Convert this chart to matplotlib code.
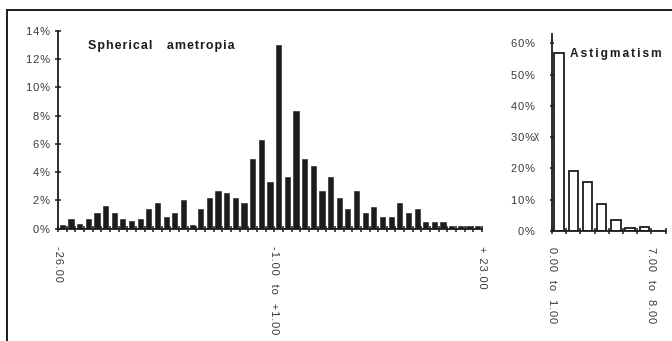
import matplotlib
matplotlib.use("Agg")
import matplotlib.pyplot as plt
from matplotlib.lines import Line2D
import numpy as np

# Spherical ametropia: share of eyes per 1 D bin, from -26.00 to +23.00
sph_values = [0.28, 0.7, 0.3, 0.7, 1.14, 1.6, 1.14, 0.7, 0.52, 0.7,
              1.38, 1.8, 0.86, 1.09, 2.0, 0.24, 1.38, 2.18, 2.7, 2.5,
              2.18, 1.8, 4.94, 6.27, 3.33, 13.0, 3.66, 8.3, 4.96, 4.47,
              2.7, 3.66, 2.18, 1.38, 2.7, 1.09, 1.57, 0.86, 0.86, 1.8,
              1.09, 1.38, 0.48, 0.48, 0.48, 0.22, 0.22, 0.22, 0.22]
sph_label_pos = [0, 25, 49]
sph_labels = ["-26.00", "-1.00  to  +1.00", "+ 23.00"]
sph_yticks = [0, 2, 4, 6, 8, 10, 12, 14]

# Astigmatism: share of eyes per 1 D bin, 0.00 to 8.00
ast_values = [57.0, 19.3, 15.7, 8.75, 3.6, 0.8, 1.3, 0.0]
ast_label_pos = [0, 7]
ast_labels = ["0.00  to  1.00", "7.00  to  8.00"]
ast_yticks = [0, 10, 20, 30, 40, 50, 60]

FONT = ["Liberation Sans", "DejaVu Sans"]
INK = "#1c1c1c"
TXT = "#3a3a3a"
HAIR = "\u200a"


def tracked(s, gap):
    """Open up letter spacing by putting a narrow space between glyphs."""
    return gap.join(s)


plt.rcParams["font.family"] = FONT
fig = plt.figure(figsize=(6.72, 3.41), dpi=100, facecolor="white")

W, H = 672.0, 341.0


def fx(px):
    return px / W


def fy(py):
    return 1 - py / H


def style_axes(ax, pad_y):
    for s in ("top", "right"):
        ax.spines[s].set_visible(False)
    for s in ("left", "bottom"):
        ax.spines[s].set_color(INK)
        ax.spines[s].set_linewidth(1.3)
    ax.tick_params(axis="both", which="both", direction="inout", color=INK,
                   width=1.1, length=5, labelsize=8, labelcolor=TXT)
    ax.tick_params(axis="y", pad=pad_y)
    ax.tick_params(axis="x", which="major", labelbottom=False)
    ax.set_facecolor("none")


# ---- Spherical ametropia panel ----
ax1 = fig.add_axes([fx(58), fy(228.7), fx(482 - 58), (228.7 - 31) / H])
x1 = np.arange(len(sph_values)) + 0.5
ax1.bar(x1, sph_values, width=0.6, color=INK, edgecolor=INK, linewidth=0.4)
ax1.set_xlim(0, len(sph_values))
ax1.set_ylim(0, 14)
ax1.set_yticks(sph_yticks)
ax1.set_yticklabels([tracked(f"{v}%", HAIR) for v in sph_yticks])
ax1.set_xticks(np.arange(0, len(sph_values) + 1))
style_axes(ax1, pad_y=3)
for p, lab in zip(sph_label_pos, sph_labels):
    ax1.text(p, -1.2, tracked(lab, HAIR), rotation=270, ha="center", va="top",
             fontsize=8, color=TXT, transform=ax1.transData)
ax1.text(0.0708, 0.925, tracked("Spherical   ametropia", HAIR), transform=ax1.transAxes,
         fontsize=9, fontweight="bold", color=INK, ha="left", va="center")

# ---- Astigmatism panel ----
ax2 = fig.add_axes([fx(552), fy(231), fx(665.6 - 552), (231 - 34) / H])
x2 = np.arange(len(ast_values)) + 0.5
ax2.bar(x2, ast_values, width=0.65, color="white", edgecolor=INK, linewidth=1.3)
ax2.set_xlim(0, len(ast_values))
ax2.set_ylim(0, 63)
ax2.set_yticks(ast_yticks)
ax2.set_yticklabels([tracked(f"{v}%", HAIR) for v in ast_yticks])
ax2.set_xticks(np.arange(0, len(ast_values) + 1))
style_axes(ax2, pad_y=11)
ax2.tick_params(axis="y", length=3)
for p, lab in zip(ast_label_pos, ast_labels):
    ax2.text(p, -5.2, tracked(lab, HAIR), rotation=270, ha="center", va="top",
             fontsize=8, color=TXT, transform=ax2.transData)
ax2.text(1.3, 56.5, tracked("Astigmatism", HAIR * 2), fontsize=8.6, fontweight="bold",
         color=INK, ha="left", va="center")
fig.text(fx(536.5), fy(136), "χ", fontsize=7, color=TXT, ha="center", va="center")

# ---- outer frame (top and left edges) ----
fig.add_artist(Line2D([fx(7), 1.0], [fy(9.5), fy(9.5)], color=INK, lw=1.4))
fig.add_artist(Line2D([fx(7), fx(7)], [fy(9.5), 0.0], color=INK, lw=1.4))

fig.savefig("out.png", dpi=100, facecolor="white")
